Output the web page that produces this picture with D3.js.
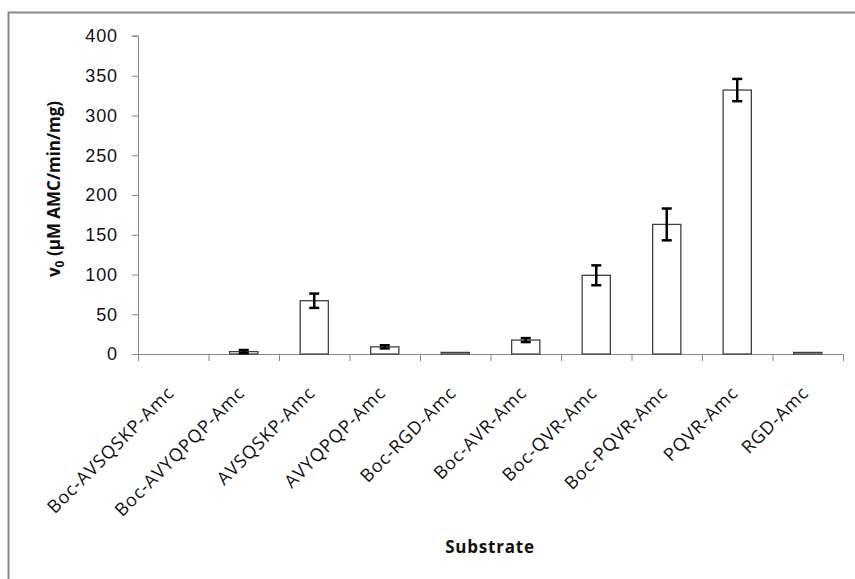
<!DOCTYPE html>
<html>
<head>
<meta charset="utf-8">
<script src="https://cdn.jsdelivr.net/npm/d3@7"></script>
<style>
  body { margin: 0; background: #fff; }
  svg { display: block; font-family: "Open Sans", sans-serif; }
</style>
</head>
<body>
<svg id="chart" width="855" height="579"></svg>
<script>
// substrates on the x axis
const substrates = ["Boc-AVSQSKP-Amc", "Boc-AVYQPQP-Amc", "AVSQSKP-Amc", "AVYQPQP-Amc",
  "Boc-RGD-Amc", "Boc-AVR-Amc", "Boc-QVR-Amc", "Boc-PQVR-Amc", "PQVR-Amc", "RGD-Amc"];
// initial rate v0 (uM AMC/min/mg) and its error
const rates = [0, 3, 67, 9, 2, 17.5, 99, 163, 332, 2];
const errors = [0, 2, 9, 2, 0, 2.5, 12.5, 20, 14, 0];
const yTicks = [0, 50, 100, 150, 200, 250, 300, 350, 400];

const svg = d3.select("#chart");
const margin = { left: 138, top: 36, right: 12, bottom: 225 };
const xEnd = 843;

// outer chart border (only top and left visible in the crop)
svg.append("path")
  .attr("d", `M8.5,579 V12.5 H855`)
  .attr("fill", "none")
  .attr("stroke", "#878787")
  .attr("stroke-width", 2);

const x = d3.scaleBand()
  .domain(substrates)
  .range([margin.left, xEnd])
  .paddingInner(0.6)
  .paddingOuter(0.3);

const y = d3.scaleLinear()
  .domain([0, 400])
  .range([354, margin.top]);

// y axis
const yAxis = svg.append("g")
  .attr("transform", `translate(${margin.left},0)`)
  .call(d3.axisLeft(y).tickValues(yTicks).tickSize(6).tickPadding(14));
yAxis.select(".domain").attr("stroke", "#868686").attr("d", `M-6,${y(400)}H0.5V${y(0)}`);
yAxis.selectAll(".tick line").attr("stroke", "#868686");
yAxis.selectAll("text")
  .style("font-size", "18px")
  .style("letter-spacing", "0.9px")
  .attr("fill", "#111");

// x axis: ticks between categories
const xs = d3.range(substrates.length + 1).map(i => margin.left + i * x.step());
svg.append("line")
  .attr("x1", margin.left).attr("x2", xEnd)
  .attr("y1", y(0) + 0.5).attr("y2", y(0) + 0.5)
  .attr("stroke", "#868686");
svg.selectAll(".xtick")
  .data(xs)
  .join("line")
  .attr("class", "xtick")
  .attr("x1", d => d + 0.5).attr("x2", d => d + 0.5)
  .attr("y1", y(0)).attr("y2", y(0) + 7)
  .attr("stroke", "#868686");

// bars
const data = substrates.map((s, i) => ({ name: s, v: rates[i], e: errors[i] }));
svg.selectAll(".bar")
  .data(data.filter(d => d.v > 0))
  .join("rect")
  .attr("class", "bar")
  .attr("x", d => x(d.name))
  .attr("width", x.bandwidth())
  .attr("y", d => y(d.v))
  .attr("height", d => y(0) - y(d.v))
  .attr("fill", "#fff")
  .attr("stroke", "#404040")
  .attr("stroke-width", 1.3);

// error bars
const cx = d => x(d.name) + x.bandwidth() / 2;
const err = svg.selectAll(".err")
  .data(data.filter(d => d.e > 0))
  .join("g")
  .attr("class", "err")
  .attr("stroke", "#000")
  .attr("stroke-width", 2.5);
err.append("line")
  .attr("x1", cx).attr("x2", cx)
  .attr("y1", d => y(d.v + d.e))
  .attr("y2", d => y(d.v - d.e));
err.append("line")
  .attr("x1", d => cx(d) - 5).attr("x2", d => cx(d) + 5)
  .attr("y1", d => y(d.v + d.e)).attr("y2", d => y(d.v + d.e));
err.append("line")
  .attr("x1", d => cx(d) - 5).attr("x2", d => cx(d) + 5)
  .attr("y1", d => y(d.v - d.e)).attr("y2", d => y(d.v - d.e));

// category labels, rotated
svg.selectAll(".xlabel")
  .data(substrates)
  .join("text")
  .attr("class", "xlabel")
  .attr("transform", d => `translate(${x(d) + x.bandwidth() / 2 + 2},394) rotate(-45)`)
  .attr("text-anchor", "end")
  .style("font-size", "18px")
  .style("letter-spacing", "0.9px")
  .attr("fill", "#111")
  .text(d => d);

// axis titles
svg.append("text")
  .attr("x", 490).attr("y", 553)
  .attr("text-anchor", "middle")
  .style("font-size", "17px")
  .style("font-weight", "bold")
  .style("letter-spacing", "0.8px")
  .attr("fill", "#111")
  .text("Substrate");

const yt = svg.append("text")
  .attr("transform", `translate(60,189) rotate(-90)`)
  .attr("text-anchor", "middle")
  .style("font-size", "17px")
  .style("font-weight", "bold")
  .attr("fill", "#111");
yt.append("tspan").text("v");
yt.append("tspan").attr("dy", 4).style("font-size", "12px").text("0");
yt.append("tspan").attr("dy", -4).text(" (µM AMC/min/mg)");
</script>
</body>
</html>
